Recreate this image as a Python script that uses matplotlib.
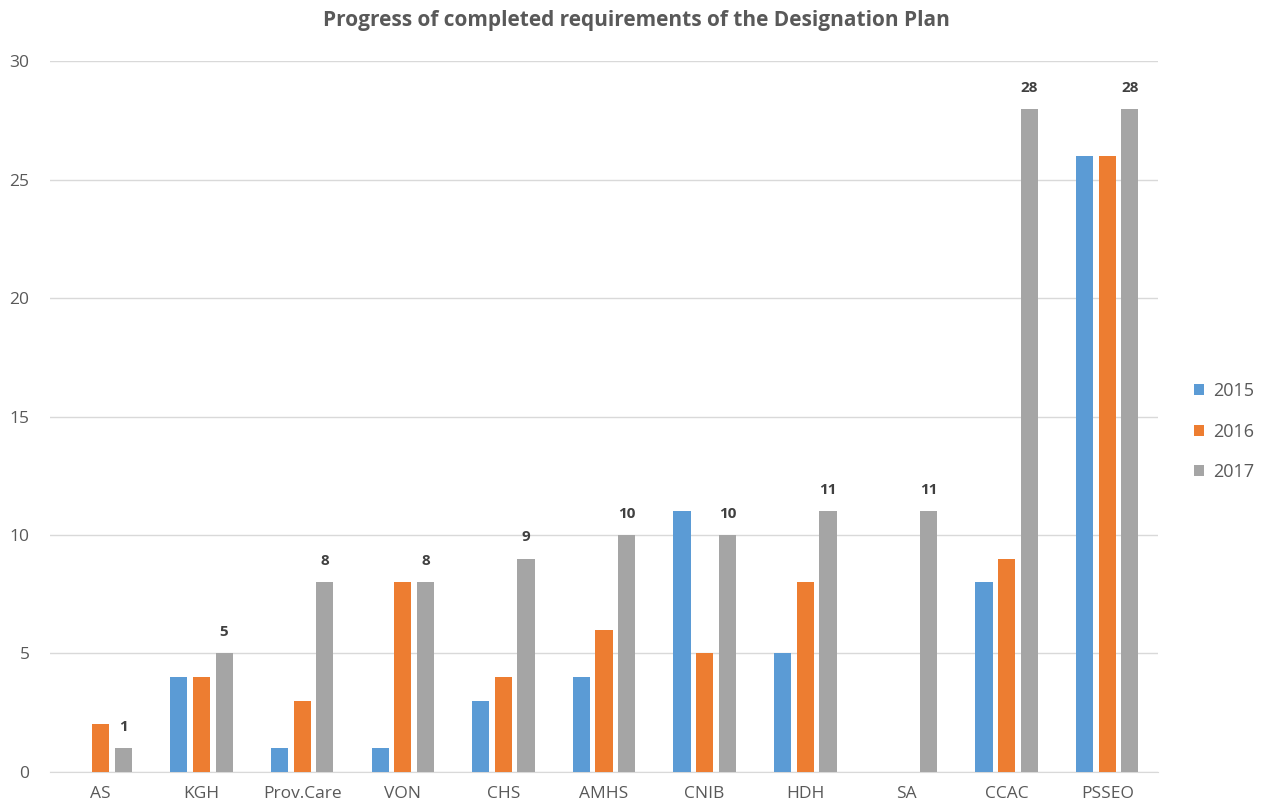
import matplotlib.pyplot as plt
import numpy as np

plt.rcParams['font.family'] = ['Open Sans', 'DejaVu Sans']

agencies = ['AS', 'KGH', 'Prov.Care', 'VON', 'CHS', 'AMHS', 'CNIB', 'HDH', 'SA', 'CCAC', 'PSSEO']
y2015 = [0, 4, 1, 1, 3, 4, 11, 5, 0, 8, 26]
y2016 = [2, 4, 3, 8, 4, 6, 5, 8, 0, 9, 26]
y2017 = [1, 5, 8, 8, 9, 10, 10, 11, 11, 28, 28]
years = ['2015', '2016', '2017']

colors = ['#5B9BD5', '#ED7D31', '#A5A5A5']
text_col = '#595959'

fig = plt.figure(figsize=(12.61, 8.09), dpi=100)
ax = fig.add_axes([0.040, 0.046, 0.878, 0.878])

x = np.arange(len(agencies))
w = 0.17
step = 0.225
for i, (vals, lab) in enumerate(zip([y2015, y2016, y2017], years)):
    ax.bar(x + (i - 1) * step, vals, w, color=colors[i], label=lab, zorder=3)

# value labels on the 2017 series only
for xi, v in zip(x, y2017):
    ax.text(xi + step, v + 0.6, str(v), ha='center', va='bottom',
            fontsize=11, color='#404040', fontweight='bold')

ax.set_xlim(-0.5, len(agencies) - 0.5)
ax.set_ylim(0, 30)
ax.set_yticks(range(0, 31, 5))
ax.set_xticks(x)
ax.set_xticklabels(agencies)
ax.yaxis.grid(True, color='#D9D9D9', linewidth=1, zorder=0)
ax.tick_params(axis='both', length=0, colors=text_col, labelsize=12.5)
ax.tick_params(axis='x', pad=10)
ax.tick_params(axis='y', pad=15)
for s in ['top', 'right', 'left']:
    ax.spines[s].set_visible(False)
ax.spines['bottom'].set_color('#D9D9D9')

# title is centred on the whole figure, not the plot area
fig.text(0.505, 0.975, 'Progress of completed requirements of the Designation Plan',
         ha='center', va='center', fontsize=15, fontweight='bold', color=text_col)

leg = ax.legend(loc='center left', bbox_to_anchor=(1.018, 0.479), frameon=False,
                handlelength=0.55, handleheight=0.55, handletextpad=0.5,
                labelspacing=1.25, fontsize=13)
for t in leg.get_texts():
    t.set_color(text_col)

fig.savefig('out.png', dpi=100)
